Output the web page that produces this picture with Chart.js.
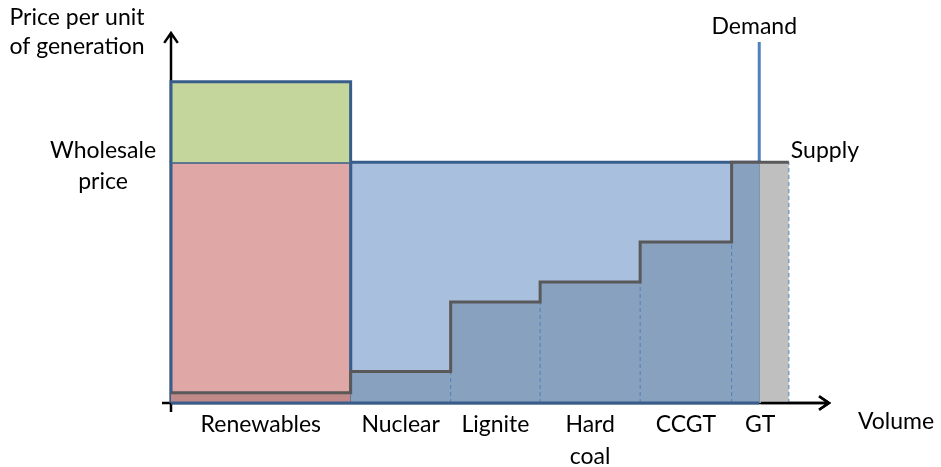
<!DOCTYPE html>
<html>
<head>
<meta charset="utf-8">
<script src="https://cdn.jsdelivr.net/npm/chart.js@4.4.0/dist/chart.umd.min.js"></script>
<style>
  html, body { margin: 0; padding: 0; background: #fff; }
  #wrap { width: 941px; height: 467px; }
</style>
</head>
<body>
<div id="wrap"><canvas id="meritChart"></canvas></div>
<script>
// merit order curve, volume and price as % of the axis length
const plantTypes = ['Renewables', 'Nuclear', 'Lignite', 'Hard coal', 'CCGT', 'GT'];
const capacityEdges = [0, 27.3, 42.5, 56.1, 71.3, 85.2, 93.9];
const marginalCost = [2.8, 8.5, 27.3, 32.7, 43.5, 65.1];
const wholesalePrice = 65.1;
const renewablesPrice = 86.8;
const demandVolume = 89.4;
const demandTop = 97.6;

const FONT = '23px Lato';

function rectPoints(x0, x1, yBottom, yTop) {
  return [{x: x0, y: yBottom}, {x: x0, y: yTop}, {x: x1, y: yTop}, {x: x1, y: yBottom}];
}

// supply curve between two volumes
function stepPoints(fromX, toX) {
  const pts = [];
  for (let i = 0; i < marginalCost.length; i++) {
    const x0 = Math.max(capacityEdges[i], fromX);
    const x1 = Math.min(capacityEdges[i + 1], toX);
    if (x1 <= x0) continue;
    pts.push({x: x0, y: marginalCost[i]}, {x: x1, y: marginalCost[i]});
  }
  return pts;
}

function lineSet(data, opts) {
  return Object.assign({
    data: data,
    showLine: true,
    pointRadius: 0,
    borderWidth: 3,
    fill: false,
    clip: false
  }, opts);
}

function drawArrow(ctx, x0, y0, x1, y1) {
  const ang = Math.atan2(y1 - y0, x1 - x0);
  const len = 12;
  ctx.beginPath();
  ctx.moveTo(x0, y0);
  ctx.lineTo(x1, y1);
  ctx.moveTo(x1 - len * Math.cos(ang - 0.6), y1 - len * Math.sin(ang - 0.6));
  ctx.lineTo(x1, y1);
  ctx.lineTo(x1 - len * Math.cos(ang + 0.6), y1 - len * Math.sin(ang + 0.6));
  ctx.stroke();
}

const axisArrows = {
  id: 'axisArrows',
  beforeDatasetsDraw(chart) {
    const ctx = chart.ctx;
    const xs = chart.scales.x, ys = chart.scales.y;
    const x0 = xs.getPixelForValue(0), y0 = ys.getPixelForValue(0);
    ctx.save();
    ctx.strokeStyle = '#000';
    ctx.lineWidth = 2.5;
    drawArrow(ctx, x0, y0 + 9, x0, ys.getPixelForValue(100));
    drawArrow(ctx, x0 - 9, y0, xs.getPixelForValue(100), y0);
    ctx.restore();
  },
  afterDatasetsDraw(chart) {
    const ctx = chart.ctx;
    const xs = chart.scales.x, ys = chart.scales.y;
    const y0 = ys.getPixelForValue(0);
    ctx.save();
    ctx.strokeStyle = '#000';
    ctx.lineWidth = 2.5;
    drawArrow(ctx, xs.getPixelForValue(demandVolume) + 1.5, y0, xs.getPixelForValue(100), y0);
    ctx.restore();
  }
};

const textLabels = {
  id: 'textLabels',
  afterDraw(chart) {
    const ctx = chart.ctx;
    const xs = chart.scales.x, ys = chart.scales.y;
    ctx.save();
    ctx.fillStyle = '#000';
    ctx.font = FONT;
    ctx.textBaseline = 'middle';
    ctx.textAlign = 'center';

    // plant type under each block
    plantTypes.forEach((name, i) => {
      const cx = (xs.getPixelForValue(capacityEdges[i]) + xs.getPixelForValue(capacityEdges[i + 1])) / 2;
      const words = name === 'Hard coal' ? ['Hard', 'coal'] : [name];
      words.forEach((w, k) => ctx.fillText(w, cx, 425 + k * 32));
    });

    ctx.fillText('Price per unit', 77, 18);
    ctx.fillText('of generation', 77, 47);
    ctx.fillText('Wholesale', 103, ys.getPixelForValue(wholesalePrice) - 12);
    ctx.fillText('price', 103, ys.getPixelForValue(wholesalePrice) + 19);
    ctx.fillText('Demand', xs.getPixelForValue(demandVolume) - 5, 27);
    ctx.fillText('Volume', 896, 422);
    ctx.textAlign = 'left';
    ctx.fillText('Supply', xs.getPixelForValue(capacityEdges[6]) + 2, ys.getPixelForValue(wholesalePrice) - 12);
    ctx.restore();
  }
};

function createMeritChart() {
  const ctx = document.getElementById('meritChart').getContext('2d');
  const border = '#385d8a';

  const dashed = [];
  for (let i = 2; i < capacityEdges.length; i++) {
    dashed.push(lineSet([{x: capacityEdges[i], y: 0}, {x: capacityEdges[i], y: marginalCost[i - 1]}], {
      borderColor: '#4f81bd', borderWidth: 1, borderDash: [4, 3], order: 5
    }));
  }

  const datasets = [
    lineSet([{x: demandVolume, y: 0}, {x: demandVolume, y: demandTop}], {borderColor: '#4f81bd', order: 9}),
    lineSet(rectPoints(0, capacityEdges[1], wholesalePrice, renewablesPrice), {
      borderColor: border, backgroundColor: '#c4d69c', fill: {value: wholesalePrice}, order: 8
    }),
    lineSet(rectPoints(0, capacityEdges[1], 0, wholesalePrice), {
      borderColor: border, backgroundColor: '#dfa7a6', fill: 'origin', order: 8
    }),
    lineSet(rectPoints(capacityEdges[1], demandVolume, 0, wholesalePrice), {
      borderColor: border, backgroundColor: '#a8c0de', fill: 'origin', order: 8
    }),
    lineSet(stepPoints(0, capacityEdges[1]), {
      borderWidth: 0, backgroundColor: '#bf8a89', fill: 'origin', order: 6
    }),
    lineSet(stepPoints(capacityEdges[1], demandVolume), {
      borderWidth: 0, backgroundColor: '#88a1bf', fill: 'origin', order: 6
    }),
    lineSet(stepPoints(demandVolume, capacityEdges[6]), {
      borderWidth: 0, backgroundColor: '#bfbfbf', fill: 'origin', order: 6
    })
  ].concat(dashed, [
    lineSet([{x: 0, y: 0}, {x: demandVolume, y: 0}], {borderColor: border, order: 4}),
    lineSet(stepPoints(0, capacityEdges[6]), {borderColor: '#595959', order: 1})
  ]);

  new Chart(ctx, {
    type: 'scatter',
    data: {datasets: datasets},
    options: {
      responsive: true,
      maintainAspectRatio: false,
      animation: false,
      layout: {padding: {left: 171, right: 112, top: 33, bottom: 64}},
      scales: {
        x: {type: 'linear', min: 0, max: 100, display: false},
        y: {type: 'linear', min: 0, max: 100, display: false}
      },
      plugins: {
        legend: {display: false},
        tooltip: {enabled: false}
      }
    },
    plugins: [axisArrows, textLabels]
  });
}

createMeritChart();
</script>
</body>
</html>
